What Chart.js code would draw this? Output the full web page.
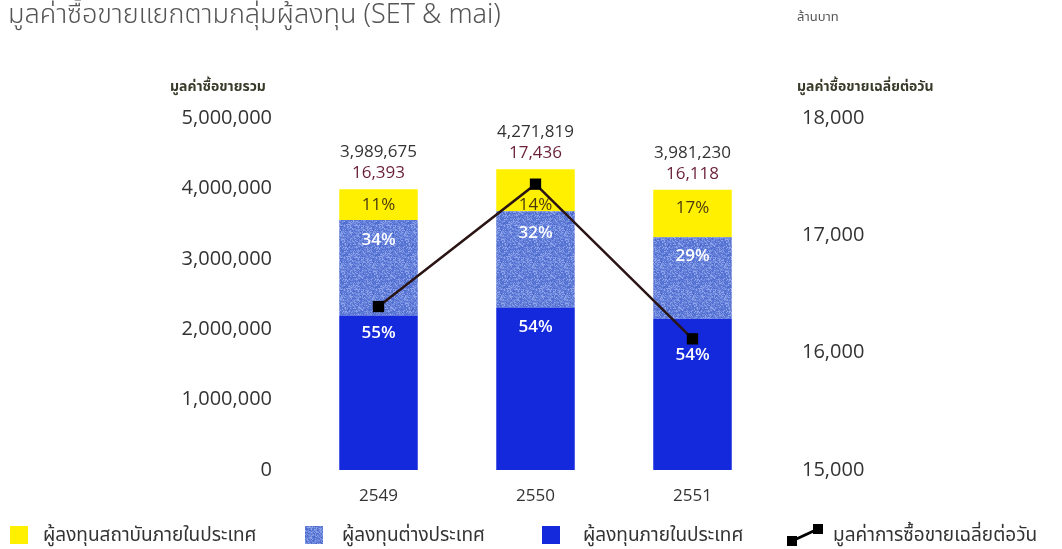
<!DOCTYPE html>
<html lang="th">
<head>
    <meta charset="UTF-8">
    <title>มูลค่าซื้อขายแยกตามกลุ่มผู้ลงทุน</title>
    <script src="https://cdn.jsdelivr.net/npm/chart.js@4.4.1/dist/chart.umd.min.js"></script>
    <style>
        body {
            margin: 0;
            background: #fff;
            font-family: "Noto Sans Thai", "Noto Sans", "Open Sans", sans-serif;
            color: #333;
        }
        .wrap {
            position: relative;
            width: 1062px;
            height: 549px;
            overflow: hidden;
        }
        #chart {
            position: absolute;
            left: 0;
            top: 0;
        }
        .txt {
            position: absolute;
            white-space: nowrap;
            line-height: 1;
        }
        .title {
            left: 8px;
            top: 1px;
            font-size: 27px;
            font-weight: 300;
            color: #555;
        }
        .unit {
            left: 797px;
            top: 11px;
            font-size: 13px;
            color: #555;
        }
        .axisTitle {
            top: 80px;
            font-size: 14px;
            font-weight: bold;
            color: #3a3a2a;
        }
        .legend-item {
            position: absolute;
            top: 524px;
            height: 22px;
            display: flex;
            align-items: center;
            font-size: 19px;
            color: #333;
            white-space: nowrap;
        }
        .swatch {
            width: 18px;
            height: 18px;
            display: inline-block;
        }
    </style>
</head>
<body>
<div class="wrap">
    <canvas id="chart" width="1062" height="549"></canvas>

    <div class="txt title">มูลค่าซื้อขายแยกตามกลุ่มผู้ลงทุน (SET &amp; mai)</div>
    <div class="txt unit">ล้านบาท</div>
    <div class="txt axisTitle" style="left:170px">มูลค่าซื้อขายรวม</div>
    <div class="txt axisTitle" style="left:797px">มูลค่าซื้อขายเฉลี่ยต่อวัน</div>

    <div class="legend-item" style="left:10px">
        <span class="swatch" style="background:#fff000"></span>
        <span style="margin-left:15px">ผู้ลงทุนสถาบันภายในประเทศ</span>
    </div>
    <div class="legend-item" style="left:305px">
        <span class="swatch" id="foreignSwatch"></span>
        <span style="margin-left:19px">ผู้ลงทุนต่างประเทศ</span>
    </div>
    <div class="legend-item" style="left:542px">
        <span class="swatch" style="background:#1428dc"></span>
        <span style="margin-left:23px">ผู้ลงทุนภายในประเทศ</span>
    </div>
    <div class="legend-item" style="left:787px">
        <svg width="36" height="22" viewBox="0 0 36 22">
            <line x1="5" y1="17" x2="31" y2="5" stroke="#000" stroke-width="3"/>
            <rect x="0" y="12" width="10" height="10" fill="#000"/>
            <rect x="26" y="0" width="10" height="10" fill="#000"/>
        </svg>
        <span style="margin-left:10px">มูลค่าการซื้อขายเฉลี่ยต่อวัน</span>
    </div>
</div>

<script>
    // ปี (พ.ศ.)
    var years = ['2549', '2550', '2551'];

    // มูลค่าซื้อขายรวม (ล้านบาท) และมูลค่าเฉลี่ยต่อวัน
    var totals = [3989675, 4271819, 3981230];
    var avgDaily = [16393, 17436, 16118];

    // สัดส่วนแต่ละกลุ่ม (%)
    var pctDomestic = [55, 54, 54];
    var pctForeign = [34, 32, 29];
    var pctInstitution = [11, 14, 17];

    // มูลค่าของแต่ละกลุ่ม (ล้านบาท)
    var domesticValue = [2194321, 2306782, 2149864];
    var foreignValue = [1356490, 1366982, 1154557];
    var institutionValue = [438864, 598055, 676809];

    var leftTicks = [0, 1000000, 2000000, 3000000, 4000000, 5000000];
    var rightTicks = [15000, 16000, 17000, 18000];

    // speckled (print-like) texture for the foreign investor bars
    function makeSpeckle() {
        var size = 32;
        var c = document.createElement('canvas');
        c.width = size;
        c.height = size;
        var g = c.getContext('2d');
        var shades = ['#5879d8', '#7b95e3', '#4d6bcd', '#6d89de', '#90a5ea', '#5d73d2', '#6580da'];
        var seed = 12345;
        for (var y = 0; y < size; y++) {
            for (var x = 0; x < size; x++) {
                seed = (seed * 1103515245 + 12345) & 0x7fffffff;
                g.fillStyle = shades[(seed >> 16) % shades.length];
                g.fillRect(x, y, 1, 1);
            }
        }
        return c;
    }
    var speckle = makeSpeckle();
    document.getElementById('foreignSwatch').style.background = 'url(' + speckle.toDataURL() + ')';

    var ctx = document.getElementById('chart').getContext('2d');
    var foreignFill = ctx.createPattern(speckle, 'repeat');

    Chart.defaults.font.family = '"Open Sans", "Noto Sans", sans-serif';
    Chart.defaults.color = '#333';

    var segments = [
        {pct: pctDomestic, offset: [18, 20, 37], color: '#fff', weight: '600'},
        {pct: pctForeign, offset: [20, 22, 19], color: '#fff', weight: '600'},
        {pct: pctInstitution, offset: [16, 36, 18], color: '#4a3a10', weight: 'normal'}
    ];

    var labelPlugin = {
        id: 'barLabels',
        afterDatasetsDraw: function(chart) {
            var c = chart.ctx;
            c.save();
            c.textAlign = 'center';
            c.textBaseline = 'middle';
            segments.forEach(function(s, k) {
                var meta = chart.getDatasetMeta(k + 1);
                meta.data.forEach(function(bar, i) {
                    c.font = s.weight + ' 17px "Open Sans", sans-serif';
                    c.fillStyle = s.color;
                    c.fillText(s.pct[i] + '%', bar.x, bar.y + s.offset[i]);
                });
            });
            var topMeta = chart.getDatasetMeta(3);
            topMeta.data.forEach(function(bar, i) {
                c.font = '17px "Open Sans", sans-serif';
                c.fillStyle = '#333';
                c.fillText(totals[i].toLocaleString('en-US'), bar.x, bar.y - 37);
                c.fillStyle = '#6a1f3a';
                c.fillText(avgDaily[i].toLocaleString('en-US'), bar.x, bar.y - 16);
            });
            c.restore();
        }
    };

    var myChart = new Chart(ctx, {
        type: 'bar',
        data: {
            labels: years,
            datasets: [
                {
                    type: 'line',
                    label: 'มูลค่าการซื้อขายเฉลี่ยต่อวัน',
                    data: avgDaily,
                    yAxisID: 'y1',
                    borderColor: '#2a1414',
                    borderWidth: 2.5,
                    pointStyle: 'rect',
                    pointRadius: 8,
                    pointBackgroundColor: '#000',
                    pointBorderWidth: 0,
                    tension: 0,
                    order: 0
                },
                {
                    label: 'ผู้ลงทุนภายในประเทศ',
                    data: domesticValue,
                    backgroundColor: '#1428dc',
                    yAxisID: 'y',
                    stack: 's',
                    order: 1
                },
                {
                    label: 'ผู้ลงทุนต่างประเทศ',
                    data: foreignValue,
                    backgroundColor: foreignFill,
                    yAxisID: 'y',
                    stack: 's',
                    order: 1
                },
                {
                    label: 'ผู้ลงทุนสถาบันภายในประเทศ',
                    data: institutionValue,
                    backgroundColor: '#fff000',
                    yAxisID: 'y',
                    stack: 's',
                    order: 1
                }
            ]
        },
        options: {
            responsive: false,
            animation: false,
            layout: {padding: {top: 118, left: 0, right: 0, bottom: 0}},
            datasets: {
                bar: {barPercentage: 1, categoryPercentage: 0.5}
            },
            plugins: {
                legend: {display: false},
                tooltip: {enabled: false}
            },
            scales: {
                x: {
                    stacked: true,
                    grid: {display: false, drawTicks: false},
                    border: {display: false},
                    ticks: {font: {size: 17}, color: '#333', padding: 16},
                    afterFit: function(scale) { scale.height = 549 - 470; }
                },
                y: {
                    position: 'left',
                    stacked: true,
                    min: leftTicks[0],
                    max: leftTicks[leftTicks.length - 1],
                    afterBuildTicks: function(scale) {
                        scale.ticks = leftTicks.map(function(v) { return {value: v}; });
                    },
                    grid: {display: false, drawTicks: false},
                    border: {display: false},
                    ticks: {
                        font: {size: 20},
                        color: '#333',
                        padding: 28,
                        callback: function(v) { return Number(v).toLocaleString('en-US'); }
                    },
                    afterFit: function(scale) { scale.width = 300; }
                },
                y1: {
                    position: 'right',
                    min: rightTicks[0],
                    max: rightTicks[rightTicks.length - 1],
                    afterBuildTicks: function(scale) {
                        scale.ticks = rightTicks.map(function(v) { return {value: v}; });
                    },
                    grid: {display: false, drawTicks: false},
                    border: {display: false},
                    ticks: {
                        font: {size: 20},
                        color: '#333',
                        padding: 31,
                        callback: function(v) { return Number(v).toLocaleString('en-US'); }
                    },
                    afterFit: function(scale) { scale.width = 1062 - 771; }
                }
            }
        },
        plugins: [labelPlugin]
    });
</script>
</body>
</html>
